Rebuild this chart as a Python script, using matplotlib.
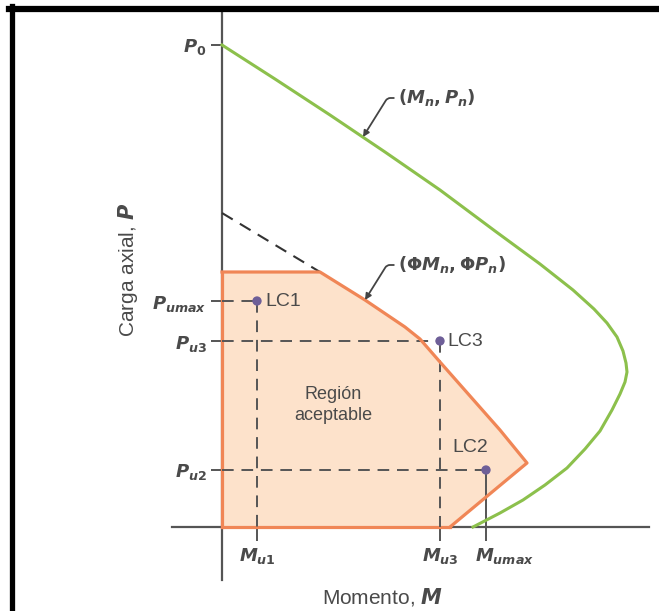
import matplotlib
matplotlib.use("Agg")
import matplotlib.pyplot as plt
from matplotlib.lines import Line2D
from matplotlib.transforms import ScaledTranslation

plt.rcParams["font.family"] = ["Liberation Sans", "DejaVu Sans"]
plt.rcParams["mathtext.fontset"] = "custom"
plt.rcParams["mathtext.it"] = "DejaVu Sans:italic:bold"
plt.rcParams["mathtext.rm"] = "DejaVu Sans:bold"
plt.rcParams["mathtext.bf"] = "DejaVu Sans:bold"

# Nominal interaction curve (Mn, Pn)
nominal_M = [0.00, 0.53, 1.08, 1.63, 2.18, 2.73, 3.18, 3.51, 3.72, 3.85,
             3.95, 4.01, 4.04, 4.05, 4.03, 3.98, 3.90, 3.78, 3.63, 3.45,
             3.23, 3.01, 2.78, 2.51]
nominal_P = [4.82, 4.48, 4.12, 3.75, 3.37, 2.96, 2.63, 2.37, 2.18, 2.04,
             1.90, 1.76, 1.64, 1.55, 1.45, 1.33, 1.17, 0.96, 0.78, 0.59,
             0.42, 0.27, 0.14, 0.00]

# Design interaction curve (phi*Mn, phi*Pn), capped at phi*Pn,max
design_M = [0.00, 0.00, 0.98, 1.43, 1.83, 1.98, 2.18, 2.48, 2.78, 3.05,
            2.28, 0.00]
design_P = [0.00, 2.55, 2.55, 2.27, 2.00, 1.88, 1.65, 1.31, 0.97, 0.64,
            0.00, 0.00]

# Unreduced extension of the design curve above the cap
ext_M = [0.00, 0.98]
ext_P = [3.14, 2.55]

# Load cases (Mu, Pu)
load_names = ["LC1", "LC3", "LC2"]
load_M = [0.35, 2.18, 2.64]
load_P = [2.26, 1.86, 0.57]

P0 = 4.82
y_ticks = [P0, load_P[0], load_P[1], load_P[2]]
y_labels = [r"$P_0$", r"$P_{umax}$", r"$P_{u3}$", r"$P_{u2}$"]
x_ticks = [load_M[0], load_M[1], load_M[2]]
x_labels = [r"$M_{u1}$", r"$M_{u3}$", r"$M_{umax}$"]

TEXT = "#4a4a4a"
AXIS = "#555555"
GREEN = "#8cc04c"
ORANGE = "#f08656"
FILL = "#fde2cb"
POINT = "#6e5f98"

fig = plt.figure(figsize=(6.59, 6.11), dpi=100)
ax = fig.add_axes([0, 0, 1, 1])
ax.set_xlim(-2.22, 4.37)
ax.set_ylim(-0.84, 5.27)

# Axes through the origin
for side in ("top", "right"):
    ax.spines[side].set_visible(False)
ax.spines["left"].set_position(("data", 0))
ax.spines["bottom"].set_position(("data", 0))
ax.spines["left"].set_bounds(-0.53, 5.18)
ax.spines["bottom"].set_bounds(-0.50, 4.27)
for side in ("left", "bottom"):
    ax.spines[side].set_color(AXIS)
    ax.spines[side].set_linewidth(1.6)
    ax.spines[side].set_zorder(1)

ax.set_yticks(y_ticks)
ax.set_yticklabels(y_labels)
ax.set_xticks(x_ticks)
ax.set_xticklabels(x_labels)
ax.tick_params(axis="y", direction="out", length=8, width=1.4, color=AXIS,
               labelcolor=TEXT, labelsize=13, pad=3)
ax.tick_params(axis="x", direction="out", length=10, width=1.4, color=AXIS,
               labelcolor=TEXT, labelsize=13, pad=4)

# The last moment label sits to the right of its tick
last = ax.get_xticklabels()[-1]
last.set_horizontalalignment("left")
last.set_transform(last.get_transform()
                   + ScaledTranslation(-11 / 100, 0, fig.dpi_scale_trans))

# Acceptable region and design curve
ax.fill(design_M, design_P, facecolor=FILL, edgecolor="none", zorder=2)
ax.plot(design_M[1:-1], design_P[1:-1], color=ORANGE, lw=2.3, zorder=4,
        solid_joinstyle="round")
ax.plot([0, design_M[-2]], [0, 0], color=ORANGE, lw=2.3, zorder=3)
ax.plot([0, 0], [0, design_P[1]], color=ORANGE, lw=2.3, zorder=3)
ax.plot(ext_M, ext_P, color="#333333", lw=1.5, ls=(0, (6, 4)), zorder=3)

# Nominal curve
ax.plot(nominal_M, nominal_P, color=GREEN, lw=2.2, zorder=4,
        solid_joinstyle="round")

# Load-case guide lines
dash = (0, (6, 4))
for i, (m, p) in enumerate(zip(load_M, load_P)):
    ax.plot([0, m], [p, p], color=AXIS, lw=1.4, ls=dash, zorder=3)
    ax.plot([m, m], [p, 0], color=AXIS, lw=1.4,
            ls="-" if i == 2 else dash, zorder=3)
ax.scatter(load_M, load_P, s=45, color=POINT, zorder=6, edgecolor="none")

ax.text(load_M[0] + 0.08, load_P[0], load_names[0], fontsize=14, color=TEXT,
        ha="left", va="center", zorder=7)
ax.text(load_M[1] + 0.07, load_P[1], load_names[1], fontsize=14, color=TEXT,
        ha="left", va="center", zorder=7)
ax.text(load_M[2] - 0.16, load_P[2] + 0.22, load_names[2], fontsize=14,
        color=TEXT, ha="center", va="center", zorder=7)

ax.text(1.11, 1.22, "Región\naceptable", fontsize=13, color=TEXT,
        ha="center", va="center", linespacing=1.35, zorder=7)

# Curve call-outs
arrow = dict(arrowstyle="-|>", color="#444444", lw=1.3, mutation_scale=9,
             shrinkA=1, shrinkB=0, relpos=(0, 0.5),
             connectionstyle="angle,angleA=0,angleB=58,rad=3")
ax.annotate(r"$(M_n, P_n)$", xy=(1.41, 3.90),
            xytext=(1.76, 4.29), fontsize=13, color=TEXT, ha="left",
            va="center", arrowprops=arrow, zorder=7)
ax.annotate(r"$(\Phi M_n, \Phi P_n)$", xy=(design_M[3], design_P[3]),
            xytext=(1.76, 2.62), fontsize=13, color=TEXT, ha="left",
            va="center", arrowprops=arrow, zorder=7)

ax.text(-0.94, 2.57, r"Carga axial, $P$", rotation=90, fontsize=15,
        color=TEXT, ha="center", va="center")
ax.text(1.60, -0.70, r"Momento, $M$", fontsize=15, color=TEXT,
        ha="center", va="center")

# Frame edges
fig.add_artist(Line2D([9 / 659, 1], [1 - 9 / 611, 1 - 9 / 611],
                      color="black", lw=4.5, transform=fig.transFigure))
fig.add_artist(Line2D([11.5 / 659, 11.5 / 659], [0, 1 - 6 / 611],
                      color="black", lw=3.8, transform=fig.transFigure))

fig.savefig("out.png", dpi=100, facecolor="white")
